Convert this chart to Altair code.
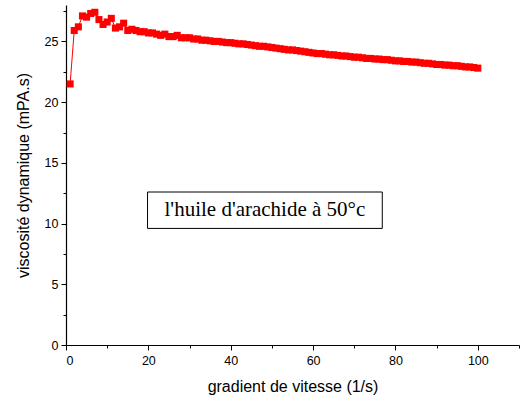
import altair as alt
import pandas as pd

# Shear rate (1/s) and dynamic viscosity (mPa.s) of peanut oil at 50 °C
shear_rate = list(range(1, 101))
viscosity = [
    21.5, 25.9, 26.2, 27.1, 27.0, 27.3, 27.4, 26.8, 26.4, 26.6,
    26.9, 26.1, 26.2, 26.5, 25.9, 26.0, 25.9, 25.8, 25.8, 25.7,
    25.7, 25.6, 25.5, 25.6, 25.4, 25.4, 25.5, 25.3, 25.3, 25.3,
    25.2, 25.2, 25.1, 25.1, 25.05, 25.0, 25.0, 24.95, 24.9, 24.9,
    24.85, 24.8, 24.8, 24.75, 24.7, 24.65, 24.6, 24.6, 24.55, 24.5,
    24.45, 24.4, 24.35, 24.3, 24.3, 24.25, 24.2, 24.15, 24.1, 24.05,
    24.0, 24.0, 23.95, 23.9, 23.9, 23.85, 23.8, 23.8, 23.75, 23.7,
    23.7, 23.65, 23.6, 23.6, 23.55, 23.55, 23.5, 23.5, 23.45, 23.4,
    23.4, 23.35, 23.35, 23.3, 23.3, 23.25, 23.2, 23.2, 23.15, 23.1,
    23.1, 23.05, 23.05, 23.0, 23.0, 22.95, 22.9, 22.9, 22.85, 22.8,
]

x_major = [0, 20, 40, 60, 80, 100]
x_minor = [10, 30, 50, 70, 90, 110]
y_major = [0, 5, 10, 15, 20, 25]
y_minor = [2.5, 7.5, 12.5, 17.5, 22.5, 27.5]

label_text = "l'huile d'arachide à 50°c"
label_box = {"x1": 19.8, "x2": 76.8, "y1": 9.6, "y2": 12.6}

df = pd.DataFrame({"x": shear_rate, "y": viscosity})

FONT = "Liberation Sans"
X_DOMAIN = [0, 110]
Y_DOMAIN = [0, 28]


def xscale():
    return alt.Scale(domain=X_DOMAIN, nice=False)


def yscale():
    return alt.Scale(domain=Y_DOMAIN, nice=False)


major_x = alt.Axis(values=x_major, title="gradient de vitesse (1/s)", grid=False,
                   orient="bottom",
                   tickSize=5, tickColor="black", tickWidth=1,
                   domainColor="black", domainWidth=1.2,
                   labelFont=FONT, labelFontSize=12.5, labelColor="black", labelPadding=4,
                   titleFont=FONT, titleFontSize=16, titleFontWeight="normal",
                   titleColor="black", titlePadding=12)
major_y = alt.Axis(values=y_major, title="viscosité dynamique (mPA.s)", grid=False,
                   orient="left",
                   tickSize=5, tickColor="black", tickWidth=1,
                   domainColor="black", domainWidth=1.2,
                   labelFont=FONT, labelFontSize=12.5, labelColor="black", labelPadding=3,
                   titleFont=FONT, titleFontSize=16, titleFontWeight="normal",
                   titleColor="black", titlePadding=13)
minor_x = alt.Axis(values=x_minor, title=None, labels=False, grid=False, domain=False,
                   orient="bottom", tickSize=3, tickColor="black", tickWidth=1)
minor_y = alt.Axis(values=y_minor, title=None, labels=False, grid=False, domain=False,
                   orient="left", tickSize=3, tickColor="black", tickWidth=1)

base = alt.Chart(df)

line = base.mark_line(color="#ff0000", strokeWidth=1).encode(
    x=alt.X("x:Q", scale=xscale(), axis=major_x),
    y=alt.Y("y:Q", scale=yscale(), axis=major_y),
)
points = base.mark_point(shape="square", filled=True, color="#ff0000",
                         size=50, opacity=1).encode(
    x=alt.X("x:Q", scale=xscale(), axis=minor_x),
    y=alt.Y("y:Q", scale=yscale(), axis=minor_y),
)

box_df = pd.DataFrame([{**label_box, "text": label_text,
                        "xm": (label_box["x1"] + label_box["x2"]) / 2,
                        "ym": (label_box["y1"] + label_box["y2"]) / 2}])
box = alt.Chart(box_df).mark_rect(fill="white", stroke="black", strokeWidth=1).encode(
    x=alt.X("x1:Q", scale=xscale(), axis=None), x2="x2:Q",
    y=alt.Y("y1:Q", scale=yscale(), axis=None), y2="y2:Q",
)
text = alt.Chart(box_df).mark_text(font="Liberation Serif", fontSize=21,
                                   color="black", align="center",
                                   baseline="middle").encode(
    x=alt.X("xm:Q", scale=xscale(), axis=None),
    y=alt.Y("ym:Q", scale=yscale(), axis=None),
    text="text:N",
)

chart = alt.layer(line, points, box, text).resolve_scale(
    x="independent", y="independent"
).resolve_axis(
    x="independent", y="independent"
).properties(
    width=453, height=340,
    autosize=alt.AutoSizeParams(type="none"),
    padding={"left": 66, "top": 5, "right": 6, "bottom": 58},
).configure_view(stroke=None)

chart.save("out.html", embed_options={"renderer": "svg", "actions": False})
